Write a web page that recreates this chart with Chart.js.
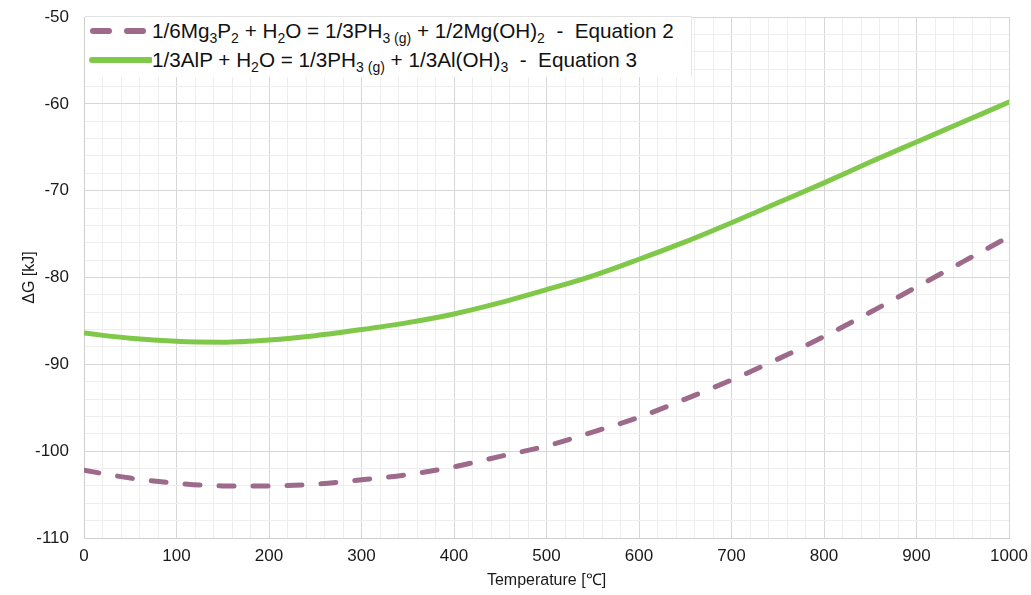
<!DOCTYPE html>
<html>
<head>
<meta charset="utf-8">
<script src="https://cdn.jsdelivr.net/npm/chart.js@4.4.1/dist/chart.umd.min.js"></script>
<style>
  html, body { margin: 0; padding: 0; background: #fff; }
  #wrap { position: relative; width: 1031px; height: 595px; }
  #legend {
    position: absolute; left: 85px; top: 16px; width: 606px; height: 60px;
    background: #fff; border-top: 1px solid #e2e2e2; border-right: 1px solid #e8e8e8;
    font-family: "Liberation Sans", Arial, sans-serif; font-size: 20.7px; color: #111;
  }
  .row { position: absolute; left: 0; height: 28px; line-height: 28px; white-space: nowrap; }
  .row svg { position: absolute; left: 3px; top: 0; }
  .row span.t { position: absolute; left: 67px; top: 0; }
  sub { font-size: 14px; vertical-align: -5px; line-height: 0; }
</style>
</head>
<body>
<div id="wrap">
  <canvas id="c" width="1031" height="595"></canvas>
  <div id="legend">
    <div class="row" style="top:0px">
      <svg width="64" height="28"><line x1="5" y1="14" x2="61" y2="14" stroke="#9d6a8c" stroke-width="6" stroke-linecap="round" stroke-dasharray="16 18"/></svg>
      <span class="t">1/6Mg<sub>3</sub>P<sub>2</sub> + H<sub>2</sub>O = 1/3PH<sub>3 (g)</sub> + 1/2Mg(OH)<sub>2</sub>&nbsp; - &nbsp;Equation 2</span>
    </div>
    <div class="row" style="top:29px">
      <svg width="64" height="28"><line x1="4" y1="14" x2="62" y2="14" stroke="#7fc84a" stroke-width="6" stroke-linecap="round"/></svg>
      <span class="t">1/3AlP + H<sub>2</sub>O = 1/3PH<sub>3 (g)</sub> + 1/3Al(OH)<sub>3</sub>&nbsp; - &nbsp;Equation 3</span>
    </div>
  </div>
</div>
<script>
const temperatures = [0, 50, 100, 150, 200, 250, 300, 350, 400, 450, 500, 550, 600, 650, 700, 750, 800, 850, 900, 950, 1000];
const equation2 = [-102.2, -103.1, -103.7, -104.0, -104.0, -103.8, -103.3, -102.7, -101.8, -100.6, -99.4, -97.8, -96.1, -94.0, -91.8, -89.4, -86.8, -84.0, -81.1, -78.2, -75.3];
const equation3 = [-86.4, -87.0, -87.35, -87.45, -87.2, -86.7, -86.0, -85.2, -84.2, -82.9, -81.4, -79.8, -77.9, -75.9, -73.7, -71.4, -69.1, -66.7, -64.4, -62.1, -59.8];
const xTickLabels = [0, 100, 200, 300, 400, 500, 600, 700, 800, 900, 1000];
const yTickLabels = [-110, -100, -90, -80, -70, -60, -50];
const seriesNames = ["1/6Mg3P2 + H2O = 1/3PH3 (g) + 1/2Mg(OH)2 - Equation 2", "1/3AlP + H2O = 1/3PH3 (g) + 1/3Al(OH)3 - Equation 3"];

const FONT = "'Liberation Sans', Arial, sans-serif";

new Chart(document.getElementById('c'), {
  type: 'line',
  data: {
    datasets: [
      {
        label: seriesNames[0],
        data: temperatures.map((t, i) => ({x: t, y: equation2[i]})),
        borderColor: '#9d6a8c',
        borderWidth: 5,
        borderDash: [15, 19],
        borderCapStyle: 'round',
        pointRadius: 0,
        cubicInterpolationMode: 'monotone',
        fill: false
      },
      {
        label: seriesNames[1],
        data: temperatures.map((t, i) => ({x: t, y: equation3[i]})),
        borderColor: '#7fc84a',
        borderWidth: 5,
        borderCapStyle: 'round',
        pointRadius: 0,
        cubicInterpolationMode: 'monotone',
        fill: false
      }
    ]
  },
  options: {
    responsive: false,
    animation: false,
    layout: { padding: { top: 17, right: 22, left: 0, bottom: 0 } },
    plugins: { legend: { display: false }, tooltip: { enabled: false } },
    scales: {
      x: {
        type: 'linear',
        min: 0, max: 1000,
        afterFit: s => { s.height = 57; s.paddingLeft = 0; s.paddingRight = 0; },
        border: { color: '#cfcfcf', width: 1 },
        grid: {
          drawTicks: false,
          color: c => (c.tick && c.tick.value % 100 === 0) ? '#d6d6d6' : '#eeeeee',
          lineWidth: 1
        },
        ticks: {
          stepSize: 20,
          autoSkip: false,
          maxRotation: 0,
          padding: 8,
          color: '#1a1a1a',
          font: { family: FONT, size: 17 },
          callback: v => xTickLabels.includes(v) ? String(v) : ''
        },
        title: {
          display: true,
          text: 'Temperature [℃]',
          color: '#1a1a1a',
          font: { family: FONT, size: 16 },
          padding: { top: 5, bottom: 5 }
        }
      },
      y: {
        type: 'linear',
        min: -110, max: -50,
        afterFit: s => { s.width = 84; s.paddingTop = 0; s.paddingBottom = 0; },
        border: { color: '#cfcfcf', width: 1 },
        grid: {
          drawTicks: false,
          color: c => (c.tick && c.tick.value % 10 === 0) ? '#d6d6d6' : '#eeeeee',
          lineWidth: 1
        },
        ticks: {
          stepSize: 2,
          autoSkip: false,
          padding: 15,
          color: '#1a1a1a',
          font: { family: FONT, size: 17 },
          callback: v => yTickLabels.includes(v) ? String(v) : ''
        },
        title: {
          display: true,
          text: 'ΔG [kJ]',
          color: '#1a1a1a',
          font: { family: FONT, size: 16 },
          padding: { top: 20, bottom: 20 }
        }
      }
    }
  }
});
</script>
</body>
</html>
